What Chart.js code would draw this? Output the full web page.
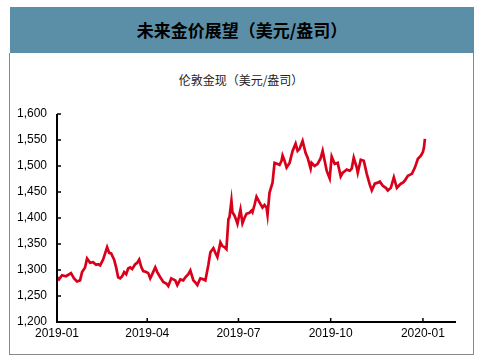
<!DOCTYPE html>
<html><head><meta charset="utf-8">
<script src="https://cdn.jsdelivr.net/npm/chart.js@4"></script>
<style>
html,body{margin:0;padding:0;background:#fff;width:482px;height:360px;overflow:hidden;}
#banner{position:absolute;left:10px;top:7px;width:464px;height:46px;background:#5B8FA8;color:#000;font:bold 17px "Noto Sans CJK SC",sans-serif;text-align:center;line-height:46px;}
#box{position:absolute;left:9px;top:53px;width:463px;height:301px;border:1px solid #888;border-top:none;}
#sub{position:absolute;left:0;width:482px;top:71px;text-align:center;font:12px "Noto Sans CJK SC",sans-serif;color:#222;}
#c{position:absolute;left:0;top:0;}
</style></head><body>
<div id="banner">未来金价展望（美元/盎司）</div>
<div id="box"></div>
<div id="sub">伦敦金现（美元/盎司）</div>
<canvas id="c" width="482" height="360"></canvas>
<script>
const dayIndex = [0,2,5,9,14,17,20,23,25,28,30,33,36,39,41,43,46,48,50,52,54,57,59,61,63,65,67,69,71,73,75,78,80,82,84,86,89,91,93,95,98,100,103,106,109,111,114,116,118,120,123,126,128,131,133,136,138,140,143,146,148,151,153,156,158,160,163,165,167,169,171,172,174,175,177,179,180,183,185,187,189,192,194,195,197,199,202,205,207,209,210,212,215,217,220,222,224,225,227,229,232,235,238,240,242,245,248,250,253,254,257,260,263,265,267,269,272,274,277,280,283,285,287,289,292,294,296,299,300,303,306,309,312,314,317,320,322,325,328,330,333,336,339,341,343,345,347,350,352,354,357,360,363,365,366,367];
const price = [1286,1282,1290,1288,1294,1284,1278,1280,1296,1305,1322,1314,1315,1310,1311,1309,1320,1332,1344,1333,1332,1320,1305,1286,1284,1288,1296,1292,1303,1305,1302,1311,1314,1320,1306,1298,1296,1294,1284,1292,1305,1296,1286,1277,1274,1269,1284,1282,1280,1271,1282,1280,1286,1292,1299,1280,1276,1271,1284,1282,1280,1310,1334,1342,1333,1325,1353,1346,1344,1340,1398,1401,1433,1411,1405,1395,1389,1416,1390,1400,1408,1410,1414,1411,1425,1441,1430,1420,1425,1420,1406,1449,1468,1506,1504,1502,1510,1520,1510,1497,1506,1529,1543,1529,1533,1548,1525,1516,1495,1506,1500,1504,1515,1529,1510,1491,1476,1518,1504,1506,1480,1487,1490,1493,1491,1495,1516,1497,1487,1512,1510,1485,1464,1453,1466,1468,1470,1462,1458,1453,1458,1478,1458,1462,1466,1468,1472,1481,1483,1485,1497,1514,1520,1527,1535,1552];
const xTickDays = [0,90,181,273,365];
const xTickLabels = ['2019-01','2019-04','2019-07','2019-10','2020-01'];
const yTicks = [1200,1250,1300,1350,1400,1450,1500,1550,1600];

const axisPlugin = {
  id:'axisPlugin',
  afterDraw(chart){
    const ctx = chart.ctx, xs = chart.scales.x, ys = chart.scales.y, a = chart.chartArea;
    ctx.save();
    ctx.strokeStyle='#000'; ctx.lineWidth=2;
    ctx.beginPath();
    ctx.moveTo(a.left, a.top); ctx.lineTo(a.left, a.bottom); ctx.lineTo(a.right, a.bottom);
    ctx.stroke();
    ctx.lineWidth=1.5;
    ys.ticks.forEach(t=>{const y=ys.getPixelForValue(t.value); ctx.beginPath(); ctx.moveTo(a.left,y); ctx.lineTo(a.left+4,y); ctx.stroke();});
    xs.ticks.forEach(t=>{const x=xs.getPixelForValue(t.value); ctx.beginPath(); ctx.moveTo(x,a.bottom); ctx.lineTo(x,a.bottom-4); ctx.stroke();});
    ctx.restore();
  }
};

new Chart(document.getElementById('c'), {
  type:'line',
  data:{datasets:[{data:dayIndex.map((d,i)=>({x:d,y:price[i]})),borderColor:'#D9001B',borderWidth:2.7,pointRadius:0,tension:0,fill:false}]},
  options:{
    responsive:false, animation:false,
    layout:{padding:{top:114,right:26,left:0,bottom:0}},
    plugins:{legend:{display:false},tooltip:{enabled:false}},
    scales:{
      x:{type:'linear',min:0,max:398,
        afterBuildTicks(s){s.ticks=xTickDays.map(v=>({value:v}));},
        afterFit(s){s.height=38;},
        grid:{display:false,drawTicks:false},border:{display:false},
        ticks:{padding:4,autoSkip:false,maxRotation:0,color:'#000',font:{family:'"Liberation Sans Narrow","Liberation Sans",Arial',size:12},
          callback(v){const i=xTickDays.indexOf(v);return i>=0?xTickLabels[i]:'';}}},
      y:{min:1200,max:1600,
        afterBuildTicks(s){s.ticks=yTicks.map(v=>({value:v}));},
        afterFit(s){s.width=57;},
        grid:{display:false,drawTicks:false},border:{display:false},
        ticks:{padding:10,color:'#000',font:{family:'"Liberation Sans Narrow","Liberation Sans",Arial',size:12},
          callback(v){return v.toLocaleString('en-US');}}}
    }
  },
  plugins:[axisPlugin]
});
</script>
</body></html>
